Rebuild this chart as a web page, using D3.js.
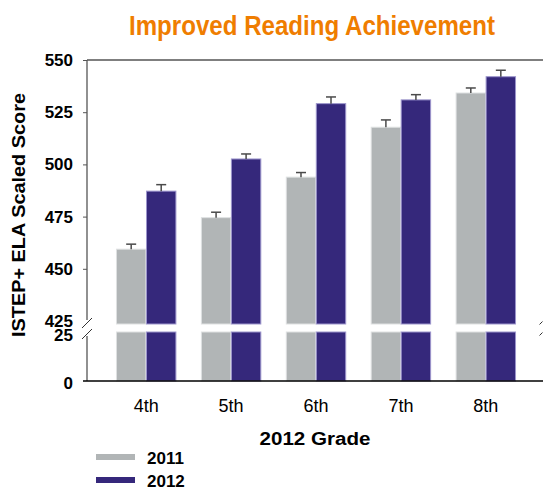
<!DOCTYPE html>
<html>
<head>
<meta charset="utf-8">
<script src="https://cdn.jsdelivr.net/npm/d3@7"></script>
<style>
  body { margin: 0; background: #fff; }
  text { font-family: "Liberation Sans", Arial, sans-serif; }
</style>
</head>
<body>
<div id="chart"></div>
<script>
// data
var grades = ["4th", "5th", "6th", "7th", "8th"];
var years = ["2011", "2012"];
var score2011 = [459.4, 474.5, 493.9, 517.8, 534.2];
var score2012 = [487.2, 502.6, 529.1, 530.9, 542.0];
var err2011 = [2.4, 2.6, 2.2, 3.5, 2.4];
var err2012 = [3.1, 2.4, 3.2, 2.5, 3.1];
var upperTicks = [425, 450, 475, 500, 525, 550];
var lowerTicks = [0, 25];

var colors = {"2011": "#b1b5b6", "2012": "#35287b"};
var edges = {"2011": "#dfe1e2", "2012": "#9c95cc"};

var width = 543, height = 491;
var axisX = 87;

var svg = d3.select("#chart").append("svg")
    .attr("width", width)
    .attr("height", height);

var rows = grades.map(function(g, i) {
    return {grade: g, values: [
        {year: "2011", v: score2011[i], e: err2011[i]},
        {year: "2012", v: score2012[i], e: err2012[i]}
    ]};
});

// x scales
var x0 = d3.scaleBand()
    .domain(grades)
    .range([91, 541])
    .paddingInner(0.3)
    .paddingOuter(0.3);

var x1 = d3.scaleBand()
    .domain(years)
    .range([0, x0.bandwidth()])
    .paddingInner(0.02);

// broken y axis: upper and lower panel
var yUp = d3.scaleLinear().domain([425, 550]).range([321, 60]);
var yLow = d3.scaleLinear().domain([0, 25]).range([381, 333]);
var upBottom = 324, lowTop = 332;

// title
svg.append("text")
    .attr("x", 312)
    .attr("y", 35)
    .attr("text-anchor", "middle")
    .attr("textLength", 366)
    .attr("lengthAdjust", "spacingAndGlyphs")
    .style("font-size", "27px")
    .style("font-weight", "bold")
    .style("fill", "#ef7d00")
    .text("Improved Reading Achievement");

// top frame line
svg.append("line")
    .attr("x1", axisX).attr("x2", width)
    .attr("y1", yUp(550)).attr("y2", yUp(550))
    .attr("stroke", "#555").attr("stroke-width", 1.3);

// bars
var groups = svg.selectAll(".grp")
    .data(rows)
    .enter().append("g")
    .attr("class", "grp")
    .attr("transform", function(d) { return "translate(" + x0(d.grade) + ",0)"; });

// upper part
groups.selectAll(".barUp")
    .data(function(d) { return d.values; })
    .enter().append("rect")
    .attr("class", "barUp")
    .attr("x", function(d) { return x1(d.year); })
    .attr("width", x1.bandwidth())
    .attr("y", function(d) { return yUp(d.v); })
    .attr("height", function(d) { return upBottom - yUp(d.v); })
    .attr("fill", function(d) { return colors[d.year]; })
    .attr("stroke", function(d) { return edges[d.year]; })
    .attr("stroke-width", 1);

// lower part
groups.selectAll(".barLow")
    .data(function(d) { return d.values; })
    .enter().append("rect")
    .attr("class", "barLow")
    .attr("x", function(d) { return x1(d.year); })
    .attr("width", x1.bandwidth())
    .attr("y", lowTop)
    .attr("height", yLow(0) - lowTop)
    .attr("fill", function(d) { return colors[d.year]; })
    .attr("stroke", function(d) { return edges[d.year]; })
    .attr("stroke-width", 1);

// error bars (upper whisker only)
var eb = groups.selectAll(".err")
    .data(function(d) { return d.values; })
    .enter().append("g")
    .attr("class", "err")
    .attr("stroke", "#4a4a4a")
    .attr("stroke-width", 1.5);

eb.append("line")
    .attr("x1", function(d) { return x1(d.year) + x1.bandwidth() / 2; })
    .attr("x2", function(d) { return x1(d.year) + x1.bandwidth() / 2; })
    .attr("y1", function(d) { return yUp(d.v); })
    .attr("y2", function(d) { return yUp(d.v + d.e); });

eb.append("line")
    .attr("x1", function(d) { return x1(d.year) + x1.bandwidth() / 2 - 5; })
    .attr("x2", function(d) { return x1(d.year) + x1.bandwidth() / 2 + 5; })
    .attr("y1", function(d) { return yUp(d.v + d.e); })
    .attr("y2", function(d) { return yUp(d.v + d.e); });

// y axes
var axUp = svg.append("g")
    .attr("transform", "translate(" + axisX + ",0)")
    .call(d3.axisLeft(yUp).tickValues(upperTicks).tickSize(4).tickSizeOuter(0));
var axLow = svg.append("g")
    .attr("transform", "translate(" + axisX + ",0)")
    .call(d3.axisLeft(yLow).tickValues(lowerTicks).tickSize(4).tickSizeOuter(0));

[axUp, axLow].forEach(function(ax) {
    ax.select(".domain").attr("stroke", "#555").attr("stroke-width", 1.3);
    ax.selectAll(".tick line").attr("stroke", "#555");
    ax.selectAll(".tick text")
        .attr("x", -14)
        .style("font-size", "17px")
        .style("font-weight", "bold")
        .style("font-family", "Liberation Sans, Arial, sans-serif")
        .attr("fill", "#000");
});
// domain of upper axis should stop at the break
axUp.select(".domain").attr("d", "M0," + yUp(550) + "V" + (yUp(425) - 1));
axLow.select(".domain").attr("d", "M0," + (yLow(25) + 3) + "V" + yLow(0));
axUp.selectAll(".tick").filter(function(d) { return d === 425; }).select("line").remove();
axLow.selectAll(".tick").filter(function(d) { return d === 0 || d === 25; }).select("line").remove();
axLow.selectAll(".tick text").attr("dy", "0.45em");

// break marks
[[axisX, 0], [width - 2, 0]].forEach(function(p, i) {
    var s = i === 0 ? 5 : 1.5;
    svg.append("line")
        .attr("x1", p[0] - s).attr("x2", p[0] + s)
        .attr("y1", yUp(425) + 2 + s).attr("y2", yUp(425) + 2 - s)
        .attr("stroke", "#333").attr("stroke-width", 1);
    svg.append("line")
        .attr("x1", p[0] - s).attr("x2", p[0] + s)
        .attr("y1", yLow(25) + 1 + s).attr("y2", yLow(25) + 1 - s)
        .attr("stroke", "#333").attr("stroke-width", 1);
});

// x axis
var axX = svg.append("g")
    .attr("transform", "translate(0," + yLow(0) + ")")
    .call(d3.axisBottom(x0).tickSize(0).tickPadding(14));
axX.select(".domain").attr("d", "M83,0H" + width).attr("stroke", "#000").attr("stroke-width", 1.3);
axX.selectAll(".tick text")
    .style("font-size", "18px")
    .style("font-family", "Liberation Sans, Arial, sans-serif")
    .attr("fill", "#000")
    .attr("dy", "0.71em")
    .attr("y", 18);

// axis titles
svg.append("text")
    .attr("x", 315)
    .attr("y", 445)
    .attr("text-anchor", "middle")
    .attr("textLength", 111)
    .attr("lengthAdjust", "spacingAndGlyphs")
    .style("font-size", "18px")
    .style("font-weight", "bold")
    .text("2012 Grade");

svg.append("text")
    .attr("transform", "translate(25,215) rotate(-90)")
    .attr("text-anchor", "middle")
    .attr("textLength", 244)
    .attr("lengthAdjust", "spacingAndGlyphs")
    .style("font-size", "18px")
    .style("font-weight", "bold")
    .text("ISTEP+ ELA Scaled Score");

// legend
var legend = svg.selectAll(".leg")
    .data(years)
    .enter().append("g")
    .attr("class", "leg")
    .attr("transform", function(d, i) { return "translate(96," + (454 + i * 23) + ")"; });

legend.append("rect")
    .attr("width", 39)
    .attr("height", 6)
    .attr("fill", function(d) { return colors[d]; });

legend.append("text")
    .attr("x", 51)
    .attr("y", 10)
    .style("font-size", "17px")
    .style("font-weight", "bold")
    .text(function(d) { return d; });
</script>
</body>
</html>
